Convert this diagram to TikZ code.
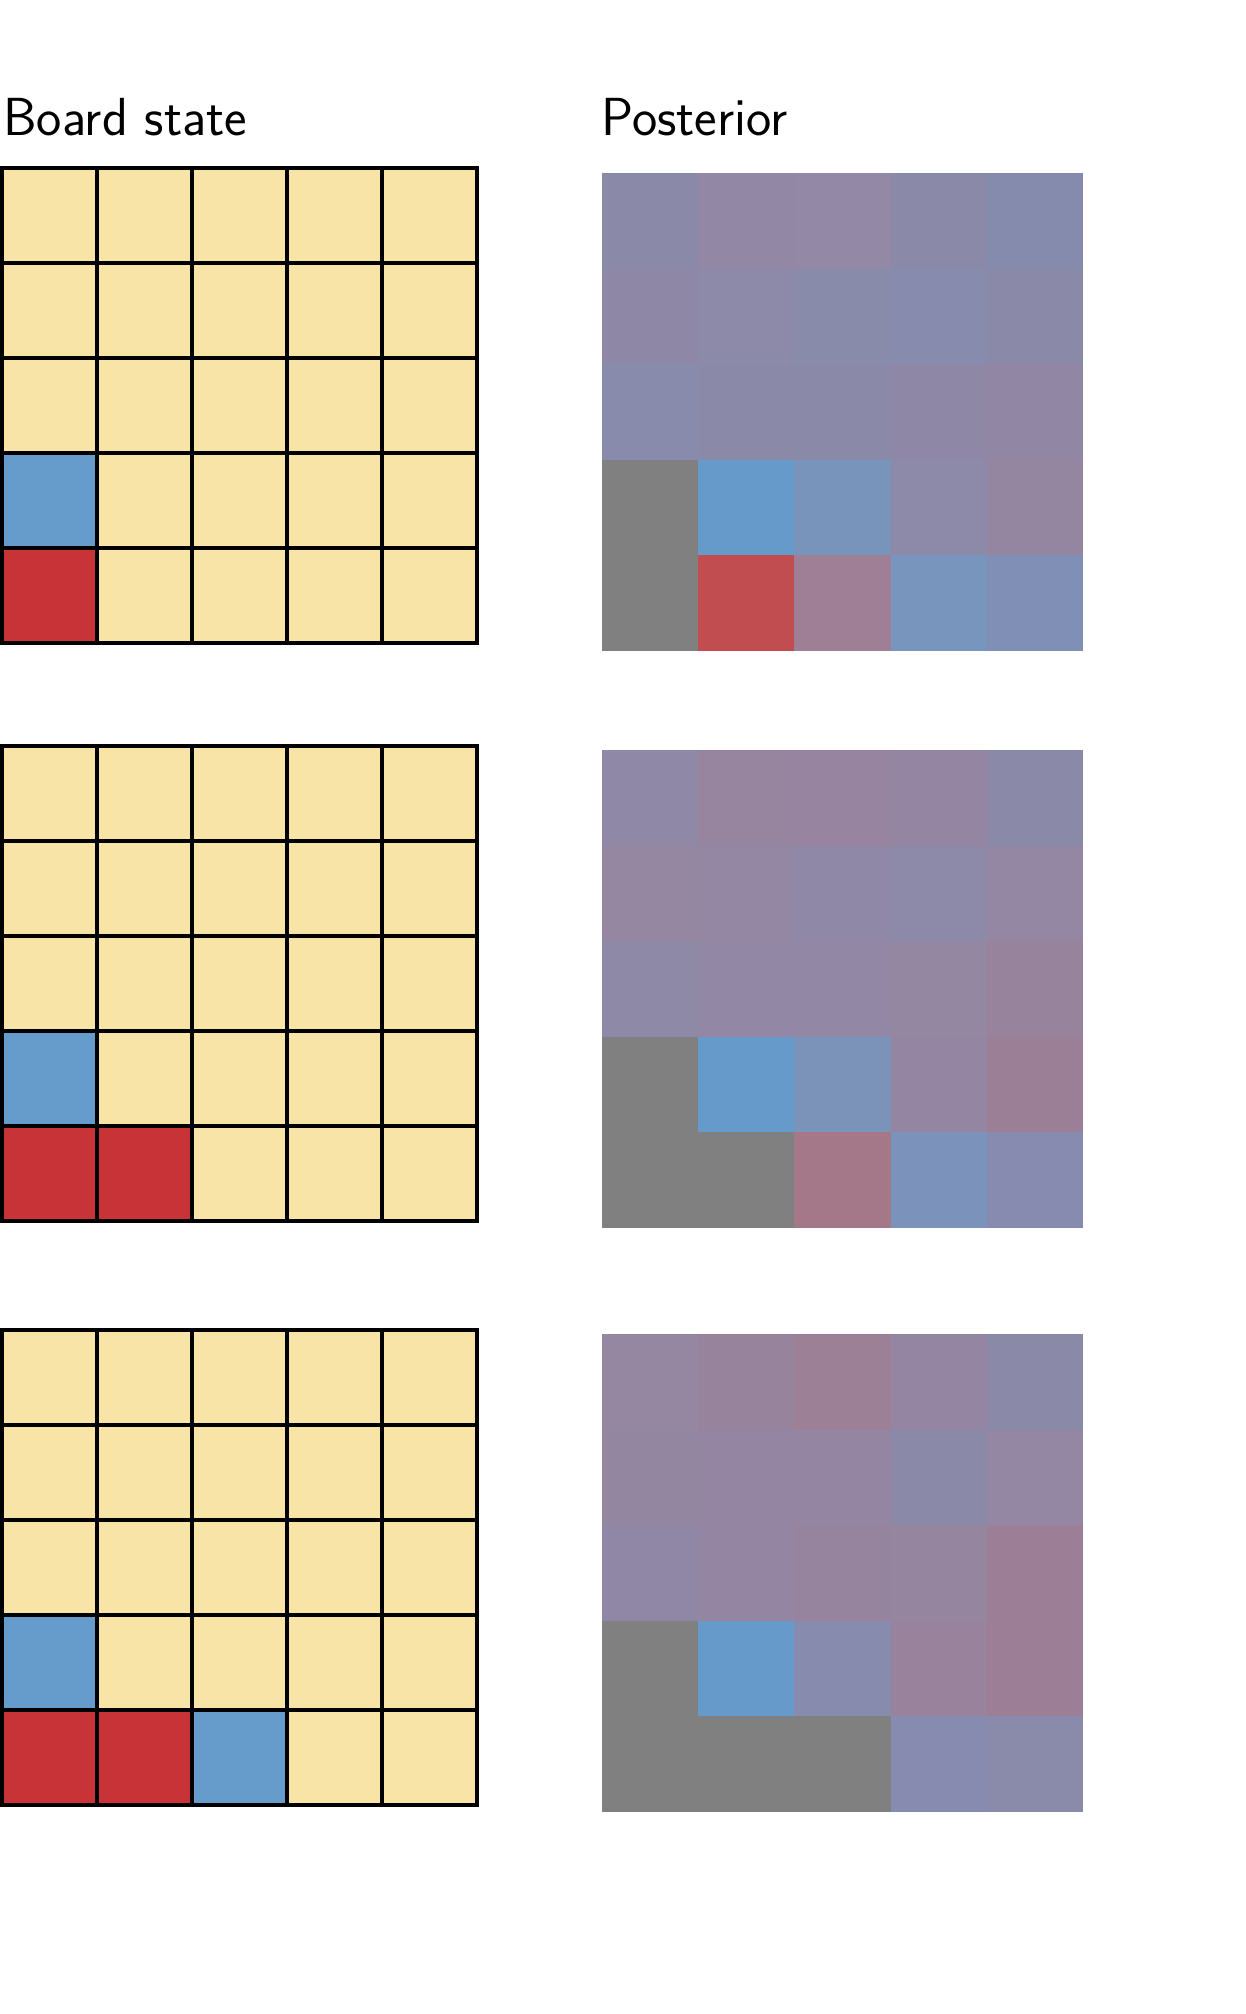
\documentclass[tikz,border=0pt]{standalone}
\usepackage{fontspec}
\usepackage{xcolor}
\definecolor{boardink}{HTML}{000000}
\definecolor{emptycell}{HTML}{F8E4A6}
\definecolor{redcell}{HTML}{C83338}
\definecolor{bluecell}{HTML}{669CCB}

% one board: top edge, list of coloured cells col/row/colour
\newcommand{\boardgrid}[2]{%
  \fill[emptycell] (2,#1) rectangle (477,#1+475);
  \foreach \bc/\br/\bk in {#2}
    \fill[\bk] (2+\bc*95,#1+\br*95) rectangle +(95,95);
  \foreach \i in {0,...,5} {
    \draw[gridline] (2+\i*95,#1) -- (2+\i*95,#1+475);
    \draw[gridline] (2,#1+\i*95) -- (477,#1+\i*95);
  }
}
% one posterior map: top edge, 25 colours row by row
\newcommand{\postmap}[2]{%
  \foreach \pc [count=\k from 0] in {#2} {
    \pgfmathtruncatemacro\pr{int(\k/5)}
    \pgfmathtruncatemacro\pq{mod(\k,5)}
    \definecolor{postcell}{HTML}{\pc}
    \fill[postcell] (602+\pq*96.2,#1+\pr*95.6) rectangle +(96.2,95.6);
  }
}

\begin{document}
\begin{tikzpicture}[
  x=0.2mm,
  y=-0.2mm,
  every node/.style={font=\sffamily\fontsize{30.5}{36}\selectfont\addfontfeatures{LetterSpace=10}, boardink},
  gridline/.style={boardink, line width=0.8mm, line cap=rect},
  title/.style={anchor=base west, inner sep=0pt}
]
  \useasboundingbox (0,0) rectangle (1246,2014);

  % ---- titles -----------------------------------------------------------
  \node[title] (boardtitle) at (3,135) {Board state};
  \node[title] (posttitle) at (601,135) {Posterior};

  % ---- boards ---------------------------------------------------------
  \boardgrid{168}{0/3/bluecell, 0/4/redcell}
  \boardgrid{746}{0/3/bluecell, 0/4/redcell, 1/4/redcell}
  \boardgrid{1330}{0/3/bluecell, 0/4/redcell, 1/4/redcell, 2/4/bluecell}

  % ---- posteriors -----------------------------------------------------
  \postmap{173}{8A8AA8, 9288A6, 9388A6, 8A8AA8, 858BAD,
    8E88A6, 8C8AA8, 898BAA, 878CAE, 8A89A7,
    888BAC, 8B89A8, 8B89A8, 8E88A6, 9187A5,
    808080, 669ACA, 7894BA, 8C8AA8, 9485A0,
    808080, C24D51, 9E7F96, 7795BD, 808FB5}
  \postmap{750}{8F88A6, 9785A0, 9784A0, 9486A2, 8A8AA8,
    9586A2, 9387A3, 8F88A6, 8C8AA8, 9387A3,
    8D89A7, 9287A4, 9287A4, 9487A2, 98839C,
    808080, 669ACA, 7B93B9, 9486A2, 9A7F96,
    808080, 808080, A47889, 7B93BB, 868BAF}
  \postmap{1334}{9586A2, 98839C, 9C8096, 9486A2, 8A89A8,
    9386A0, 9486A2, 9486A2, 8A8AA8, 9387A3,
    8F87A5, 9486A2, 96849E, 95859F, 9C7F96,
    808080, 669ACA, 878BAE, 98829C, 9C7F96,
    808080, 808080, 808080, 868BAF, 8A8AAA}
\end{tikzpicture}
\end{document}
